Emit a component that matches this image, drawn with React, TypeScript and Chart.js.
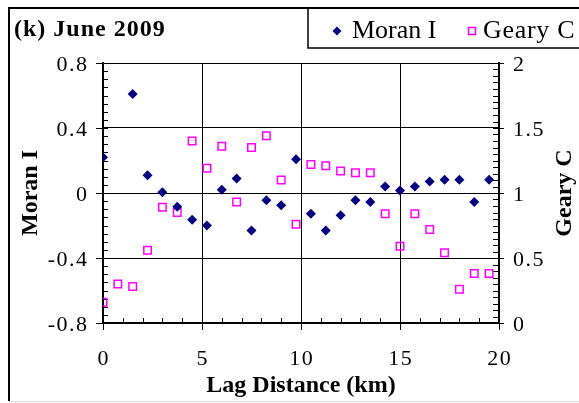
import React, { useEffect, useRef } from "react";
import { Chart, registerables } from "chart.js";

Chart.register(...registerables);

// Lag distance of each class (km)
const lagKm = [
  0, 0.75, 1.5, 2.25, 3, 3.75, 4.5, 5.25, 6, 6.75, 7.5, 8.25, 9, 9.75, 10.5,
  11.25, 12, 12.75, 13.5, 14.25, 15, 15.75, 16.5, 17.25, 18, 18.75, 19.5,
];

// Moran's I per lag class (null = not plotted)
const moranI = [
  0.22, null, 0.61, 0.11, 0.005, -0.085, -0.165, -0.2, 0.02, 0.09, -0.23,
  -0.045, -0.076, 0.208, -0.127, -0.231, -0.137, -0.045, -0.055, 0.04, 0.016,
  0.04, 0.071, 0.081, 0.081, -0.055, 0.081,
];

// Geary's C per lag class
const gearyC = [
  0.16, 0.3, 0.28, 0.56, 0.89, 0.85, 1.4, 1.19, 1.36, 0.93, 1.35, 1.44, 1.1,
  0.76, 1.22, 1.21, 1.17, 1.155, 1.155, 0.84, 0.59, 0.84, 0.72, 0.54, 0.26,
  0.38, 0.38,
];

const moranTicks = [-0.8, -0.4, 0, 0.4, 0.8];
const gearyTicks = [0, 0.5, 1, 1.5, 2];
const lagTicks = [0, 5, 10, 15, 20];

const chartTitle = "(k) June 2009";
const xTitle = "Lag Distance (km)";
const yTitle = "Moran I";
const y2Title = "Geary C";

const SERIF = '"Liberation Serif", "Times New Roman", serif';
const NAVY = "#000080";
const MAGENTA = "#FF00FF";

type Align = "left" | "center" | "right";

function drawText(
  ctx: CanvasRenderingContext2D,
  text: string,
  x: number,
  y: number,
  font: string,
  align: Align,
  spacing = 0
) {
  ctx.save();
  ctx.font = font;
  (ctx as any).letterSpacing = `${spacing}px`;
  ctx.fillStyle = "#000";
  ctx.textBaseline = "alphabetic";
  ctx.textAlign = "left";
  const w = ctx.measureText(text).width - spacing;
  let left = x;
  if (align === "center") left = x - w / 2;
  else if (align === "right") left = x - w;
  ctx.fillText(text, left, y);
  ctx.restore();
}

function drawDiamond(ctx: CanvasRenderingContext2D, cx: number, cy: number, r: number) {
  ctx.beginPath();
  ctx.moveTo(cx, cy - r);
  ctx.lineTo(cx + r, cy);
  ctx.lineTo(cx, cy + r);
  ctx.lineTo(cx - r, cy);
  ctx.closePath();
  ctx.fillStyle = NAVY;
  ctx.fill();
}

const decorations = {
  id: "decorations",
  beforeDatasetsDraw(chart: any) {
    const ctx: CanvasRenderingContext2D = chart.ctx;
    const xs = chart.scales.x;
    const ys = chart.scales.y;
    const y2s = chart.scales.y2;
    const { left, right, bottom } = chart.chartArea;
    ctx.save();
    ctx.strokeStyle = "#000";
    ctx.lineWidth = 1;
    ctx.beginPath();
    // x axis: minor every 1 km, major every 5 km
    for (let v = 0; v <= 20; v += 1) {
      const px = Math.round(xs.getPixelForValue(v)) + 0.5;
      if (v % 5 === 0) {
        ctx.moveTo(px, bottom - 5);
        ctx.lineTo(px, bottom + 7);
      } else {
        ctx.moveTo(px, bottom - 5);
        ctx.lineTo(px, bottom);
      }
    }
    // left axis: minor every 0.05
    for (let i = 0; i <= 32; i++) {
      const v = -0.8 + i * 0.05;
      const py = Math.round(ys.getPixelForValue(v)) + 0.5;
      if (i % 8 === 0) {
        ctx.moveTo(left - 7, py);
        ctx.lineTo(left + 5, py);
      } else {
        ctx.moveTo(left, py);
        ctx.lineTo(left + 5, py);
      }
    }
    // right axis: minor every 0.05
    for (let i = 0; i <= 40; i++) {
      const v = i * 0.05;
      const py = Math.round(y2s.getPixelForValue(v)) + 0.5;
      if (i % 10 === 0) {
        ctx.moveTo(right - 6, py);
        ctx.lineTo(right + 5, py);
      } else {
        ctx.moveTo(right - 6, py);
        ctx.lineTo(right, py);
      }
    }
    ctx.stroke();
    ctx.restore();
  },
  afterDraw(chart: any) {
    const ctx: CanvasRenderingContext2D = chart.ctx;
    const xs = chart.scales.x;
    const ys = chart.scales.y;
    const y2s = chart.scales.y2;
    const { left, right, top, bottom } = chart.chartArea;

    // outer frame
    ctx.save();
    ctx.strokeStyle = "#000";
    ctx.lineWidth = 2;
    ctx.beginPath();
    ctx.moveTo(9, 401);
    ctx.lineTo(9, 8);
    ctx.lineTo(579, 8);
    ctx.stroke();
    ctx.strokeStyle = "#d8d8d8";
    ctx.lineWidth = 1;
    ctx.beginPath();
    ctx.moveTo(9, 401.5);
    ctx.lineTo(579, 401.5);
    ctx.stroke();

    // legend box
    ctx.strokeStyle = "#000";
    ctx.lineWidth = 1.5;
    ctx.strokeRect(308, 8, 300, 40);
    ctx.restore();

    // legend entries
    const ds = chart.data.datasets;
    drawDiamond(ctx, 337, 31, 4.5);
    drawText(ctx, ds[0].label, 352, 38, `26px ${SERIF}`, "left");
    ctx.save();
    ctx.strokeStyle = MAGENTA;
    ctx.lineWidth = 1.5;
    ctx.strokeRect(468.5, 27.5, 7, 7);
    ctx.restore();
    drawText(ctx, ds[1].label, 483, 38, `26px ${SERIF}`, "left", 0.7);

    // chart title
    drawText(ctx, chartTitle, 14, 36, `bold 24px ${SERIF}`, "left", 1);

    // tick labels
    const tickFont = `22px ${SERIF}`;
    moranTicks.forEach((v) => {
      drawText(ctx, String(v), 87, ys.getPixelForValue(v) + 7.5, tickFont, "right", 1.5);
    });
    gearyTicks.forEach((v) => {
      drawText(ctx, String(v), 513, y2s.getPixelForValue(v) + 7.5, tickFont, "left", 1.5);
    });
    lagTicks.forEach((v) => {
      drawText(ctx, String(v), xs.getPixelForValue(v), 365, tickFont, "center", 1.5);
    });

    // axis titles
    drawText(ctx, xTitle, (left + right) / 2, 392, `bold 24px ${SERIF}`, "center");

    ctx.save();
    ctx.translate(37, (top + bottom) / 2);
    ctx.rotate(-Math.PI / 2);
    drawText(ctx, yTitle, 0, 0, `bold 24px ${SERIF}`, "center");
    ctx.restore();

    ctx.save();
    ctx.translate(571, (top + bottom) / 2);
    ctx.rotate(-Math.PI / 2);
    drawText(ctx, y2Title, 0, 0, `bold 24px ${SERIF}`, "center");
    ctx.restore();
  },
};

export default function App() {
  const canvasRef = useRef<HTMLCanvasElement | null>(null);

  useEffect(() => {
    const canvas = canvasRef.current;
    if (!canvas) return;

    const moranPoints = lagKm
      .map((x, i) => ({ x, y: moranI[i] }))
      .filter((p) => p.y !== null) as { x: number; y: number }[];
    const gearyPoints = lagKm.map((x, i) => ({ x, y: gearyC[i] }));

    const chart = new Chart(canvas, {
      type: "scatter",
      data: {
        datasets: [
          {
            label: "Moran I",
            data: moranPoints,
            yAxisID: "y",
            pointStyle: "rectRot",
            pointRadius: 5,
            pointHoverRadius: 5,
            backgroundColor: NAVY,
            borderColor: NAVY,
            borderWidth: 0,
          },
          {
            label: "Geary C",
            data: gearyPoints,
            yAxisID: "y2",
            pointStyle: "rect",
            pointRadius: 5.3,
            pointHoverRadius: 5.3,
            backgroundColor: "rgba(0,0,0,0)",
            borderColor: MAGENTA,
            borderWidth: 1.5,
          },
        ],
      },
      options: {
        animation: false,
        responsive: true,
        maintainAspectRatio: false,
        layout: { padding: { top: 63, left: 0, right: 0, bottom: 0 } },
        plugins: {
          legend: { display: false },
          title: { display: false },
          tooltip: { enabled: false },
        },
        scales: {
          x: {
            type: "linear",
            min: 0,
            max: 20,
            ticks: { stepSize: 5, display: false },
            grid: { color: "#000", lineWidth: 1, drawTicks: false },
            border: { display: true, color: "#000", width: 2 },
            afterFit: (s: any) => {
              s.height = 80;
            },
          },
          y: {
            type: "linear",
            position: "left",
            min: -0.8,
            max: 0.8,
            ticks: { stepSize: 0.4, display: false },
            grid: { color: "#000", lineWidth: 1, drawTicks: false },
            border: { display: true, color: "#000", width: 2 },
            afterFit: (s: any) => {
              s.width = 103;
            },
          },
          y2: {
            type: "linear",
            position: "right",
            min: 0,
            max: 2,
            ticks: { stepSize: 0.5, display: false },
            grid: { drawOnChartArea: false, drawTicks: false },
            border: { display: true, color: "#000", width: 2 },
            afterFit: (s: any) => {
              s.width = 80;
            },
          },
        },
      },
      plugins: [decorations],
    });

    return () => chart.destroy();
  }, []);

  return (
    <div style={{ position: "absolute", left: 0, top: 0, width: 579, height: 403, background: "#fff" }}>
      <canvas ref={canvasRef} />
    </div>
  );
}
